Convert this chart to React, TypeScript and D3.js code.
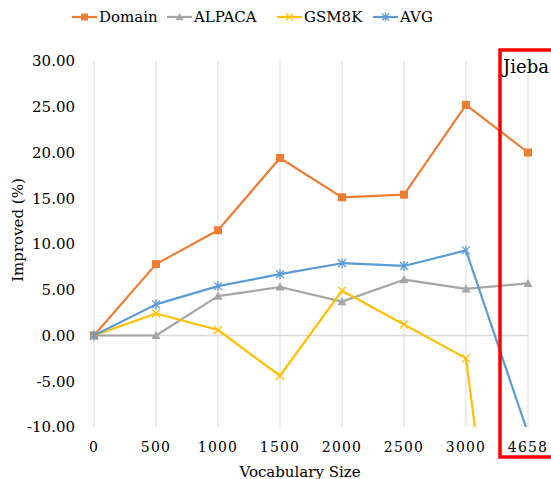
import { useEffect, useRef } from "react";
import * as d3 from "d3";

const categories = ["0", "500", "1000", "1500", "2000", "2500", "3000", "4658"];
const domainVals = [0, 7.8, 11.5, 19.4, 15.1, 15.4, 25.2, 20.0];
const alpacaVals = [0, 0, 4.3, 5.3, 3.7, 6.1, 5.1, 5.7];
const gsm8kVals = [0, 2.4, 0.6, -4.4, 4.9, 1.2, -2.5, -55];
const avgVals = [0, 3.4, 5.4, 6.7, 7.9, 7.6, 9.3, -10.7];
const yTicks = [30, 25, 20, 15, 10, 5, 0, -5, -10];

const FONT = "DejaVu Serif, Liberation Serif, serif";

type Marker = "square" | "triangle" | "x" | "star";
const series: { name: string; values: number[]; color: string; marker: Marker }[] = [
  { name: "Domain", values: domainVals, color: "#ED7D31", marker: "square" },
  { name: "ALPACA", values: alpacaVals, color: "#A5A5A5", marker: "triangle" },
  { name: "GSM8K", values: gsm8kVals, color: "#FFC000", marker: "x" },
  { name: "AVG", values: avgVals, color: "#5B9BD5", marker: "star" },
];

function drawMarker(g: d3.Selection<SVGGElement, unknown, null, undefined>, kind: Marker, x: number, y: number, color: string, s: number) {
  if (kind === "square") {
    g.append("rect").attr("x", x - s / 2).attr("y", y - s / 2).attr("width", s).attr("height", s).attr("fill", color);
  } else if (kind === "triangle") {
    const h = s * 0.9;
    g.append("path")
      .attr("d", `M${x},${y - h / 2 - 1}L${x + s / 2 + 0.5},${y + h / 2}L${x - s / 2 - 0.5},${y + h / 2}Z`)
      .attr("fill", color);
  } else if (kind === "x") {
    const r = s / 2;
    g.append("path")
      .attr("d", `M${x - r},${y - r}L${x + r},${y + r}M${x - r},${y + r}L${x + r},${y - r}`)
      .attr("stroke", color).attr("stroke-width", 1.3).attr("fill", "none");
  } else {
    const r = s / 2;
    g.append("path")
      .attr("d", `M${x - r},${y - r}L${x + r},${y + r}M${x - r},${y + r}L${x + r},${y - r}M${x},${y - r - 1}L${x},${y + r + 1}`)
      .attr("stroke", color).attr("stroke-width", 1.3).attr("fill", "none");
  }
}

export default function App() {
  const ref = useRef<SVGSVGElement>(null);

  useEffect(() => {
    if (!ref.current) return;
    const svg = d3.select(ref.current);
    svg.selectAll("*").remove();
    svg.style("font-family", FONT);

    const x = d3.scalePoint<string>().domain(categories).range([94, 528]);
    const y = d3.scaleLinear().domain([-10, 30]).range([427, 61]);

    const defs = svg.append("defs");
    defs.append("clipPath").attr("id", "plot-clip")
      .append("rect").attr("x", 0).attr("y", 55).attr("width", 551).attr("height", 372);

    // vertical gridlines
    const grid = svg.append("g");
    categories.forEach(c => {
      grid.append("line")
        .attr("x1", x(c)!).attr("x2", x(c)!).attr("y1", y(30)).attr("y2", y(-10))
        .attr("stroke", "#D9D9D9").attr("stroke-width", 1);
    });
    // zero line
    grid.append("line")
      .attr("x1", x("0")!).attr("x2", x("4658")!).attr("y1", y(0)).attr("y2", y(0))
      .attr("stroke", "#D9D9D9").attr("stroke-width", 1.5);

    // y ticks
    const yAxis = svg.append("g");
    yTicks.forEach(t => {
      yAxis.append("text")
        .attr("x", 75).attr("y", y(t)).attr("dy", "0.35em")
        .attr("text-anchor", "end").style("font-family", FONT).attr("font-size", 15).attr("fill", "#000")
        .text(t.toFixed(2));
    });

    // x ticks
    const xAxis = svg.append("g");
    categories.forEach(c => {
      xAxis.append("text")
        .attr("x", x(c)!).attr("y", 447).attr("dy", "0.35em")
        .attr("text-anchor", "middle").style("font-family", FONT).attr("font-size", 14)
        .attr("letter-spacing", 1.2).attr("fill", "#000")
        .text(c);
    });

    svg.append("text")
      .attr("x", 300).attr("y", 472).attr("dy", "0.35em").attr("text-anchor", "middle")
      .style("font-family", FONT).attr("font-size", 15).text("Vocabulary Size");
    svg.append("text")
      .attr("transform", `translate(18,230)rotate(-90)`).attr("dy", "0.35em").attr("text-anchor", "middle")
      .style("font-family", FONT).attr("font-size", 15).text("Improved (%)");

    // series
    const plot = svg.append("g").attr("clip-path", "url(#plot-clip)");
    const line = d3.line<number>().x((_, i) => x(categories[i])!).y(v => y(v));
    series.forEach(s => {
      plot.append("path").datum(s.values).attr("d", line)
        .attr("fill", "none").attr("stroke", s.color).attr("stroke-width", 2.2).attr("stroke-linejoin", "round");
    });
    series.forEach(s => {
      const mg = plot.append("g");
      s.values.forEach((v, i) => {
        if (v < -10 || v > 30) return;
        drawMarker(mg, s.marker, x(categories[i])!, y(v), s.color, 8);
      });
    });

    // legend
    const legend = svg.append("g");
    const lx = [72, 167, 277, 373];
    series.forEach((s, i) => {
      const gx = lx[i];
      legend.append("line").attr("x1", gx).attr("x2", gx + 25).attr("y1", 17).attr("y2", 17)
        .attr("stroke", s.color).attr("stroke-width", 2.2);
      drawMarker(legend, s.marker, gx + 12.5, 17, s.color, 7);
      legend.append("text").attr("x", gx + 27).attr("y", 17).attr("dy", "0.35em")
        .style("font-family", FONT).attr("font-size", 15).text(s.name);
    });

    // Jieba highlight box
    svg.append("rect").attr("x", 500).attr("y", 50).attr("width", 80).attr("height", 407)
      .attr("fill", "none").attr("stroke", "#FF0000").attr("stroke-width", 3.5);
    svg.append("text").attr("x", 503).attr("y", 73)
      .style("font-family", FONT).attr("font-size", 18).text("Jieba");
  }, []);

  return (
    <svg ref={ref} width={551} height={479}
      style={{ position: "absolute", left: 0, top: 0, background: "#fff" }} />
  );
}
